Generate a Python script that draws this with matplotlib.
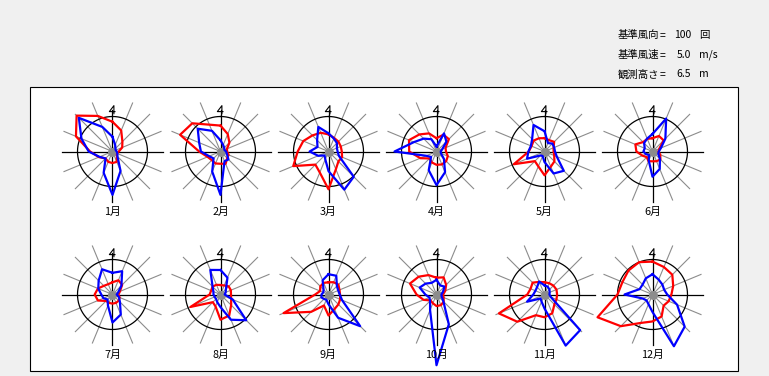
import numpy as np
import matplotlib
matplotlib.use("Agg")
import matplotlib.pyplot as plt
from matplotlib.patches import Rectangle

plt.rcParams['font.family'] = ['Noto Sans CJK JP', 'DejaVu Sans']

# 16 directions, clockwise from north: N, NNE, NE, ..., NNW
directions = ['N', 'NNE', 'NE', 'ENE', 'E', 'ESE', 'SE', 'SSE',
              'S', 'SSW', 'SW', 'WSW', 'W', 'WNW', 'NW', 'NNW']
months = ['1月', '2月', '3月', '4月', '5月', '6月',
          '7月', '8月', '9月', '10月', '11月', '12月']

ref_count = 100   # 基準風向 (回)
ref_speed = 5.0   # 基準風速 (m/s)

# wind direction frequency (回)
freq_jan = [85, 65, 40, 30, 18, 14, 18, 32, 33, 32, 28, 42, 64, 113, 145, 110]
freq_feb = [74, 54, 36, 20, 19, 25, 27, 38, 35, 37, 35, 40, 61, 125, 114, 83]
freq_mar = [49, 42, 40, 38, 38, 42, 40, 55, 108, 65, 53, 109, 88, 78, 65, 58]
freq_apr = [38, 52, 50, 28, 27, 35, 39, 40, 38, 34, 28, 50, 78, 85, 69, 56]
freq_may = [38, 35, 39, 28, 26, 30, 40, 47, 68, 46, 39, 95, 45, 40, 44, 41]
freq_jun = [38, 48, 45, 21, 17, 24, 32, 30, 28, 30, 23, 31, 46, 53, 38, 39]
freq_jul = [35, 44, 39, 23, 17, 22, 25, 26, 26, 26, 26, 45, 51, 45, 35, 32]
freq_aug = [27, 28, 33, 32, 30, 33, 43, 65, 72, 37, 31, 93, 31, 29, 32, 30]
freq_sep = [35, 38, 40, 34, 33, 36, 40, 45, 60, 34, 70, 139, 38, 26, 33, 36]
freq_oct = [48, 53, 39, 27, 19, 22, 29, 33, 33, 27, 24, 40, 57, 82, 72, 60]
freq_nov = [35, 35, 36, 37, 36, 37, 40, 58, 65, 64, 110, 141, 49, 43, 48, 39]
freq_dec = [94, 85, 80, 64, 54, 50, 45, 68, 77, 88, 128, 170, 100, 93, 97, 100]

# mean wind speed (m/s)
speed_jan = [2.1, 1.0, 0.6, 0.5, 0.6, 0.75, 1.0, 3.0, 6.2, 3.3, 1.4, 2.0, 3.4, 4.8, 6.8, 3.8]
speed_feb = [1.6, 1.0, 0.75, 0.6, 0.8, 1.0, 1.6, 1.5, 6.2, 3.1, 1.4, 1.75, 2.8, 3.3, 4.6, 3.2]
speed_mar = [2.6, 2.0, 1.7, 1.3, 1.3, 1.6, 5.1, 5.9, 2.8, 1.2, 0.8, 1.6, 2.7, 1.7, 2.3, 3.8]
speed_apr = [0.7, 2.8, 2.0, 0.9, 0.6, 0.7, 1.5, 3.2, 4.8, 2.9, 1.1, 1.6, 6.0, 3.5, 2.6, 1.9]
speed_may = [2.9, 1.3, 1.6, 1.5, 1.5, 1.9, 3.9, 3.4, 1.5, 0.7, 0.8, 2.7, 2.3, 2.1, 2.5, 4.1]
speed_jun = [2.5, 5.1, 2.6, 1.3, 0.9, 0.9, 1.5, 2.7, 3.6, 1.4, 0.7, 1.0, 1.3, 1.2, 1.7, 2.0]
speed_jul = [3.1, 3.6, 1.8, 0.9, 0.6, 1.0, 1.5, 3.1, 4.0, 1.7, 1.0, 1.4, 1.6, 2.2, 2.8, 3.9]
speed_aug = [3.5, 2.6, 1.1, 0.8, 0.6, 1.9, 5.2, 3.9, 1.8, 1.2, 0.9, 0.9, 1.0, 1.1, 1.6, 3.8]
speed_sep = [2.9, 2.9, 1.7, 1.5, 1.6, 2.1, 6.4, 3.6, 1.4, 0.8, 0.9, 1.1, 1.0, 0.8, 1.0, 2.2]
speed_oct = [2.1, 1.4, 1.6, 1.0, 0.7, 0.8, 1.4, 4.6, 10.1, 2.4, 1.3, 1.1, 1.6, 2.6, 2.2, 1.8]
speed_nov = [1.3, 1.2, 1.0, 0.8, 0.7, 1.0, 7.2, 7.9, 2.0, 1.1, 0.8, 2.7, 1.6, 1.4, 1.5, 2.0]
speed_dec = [2.9, 2.3, 2.0, 1.8, 2.1, 3.8, 6.5, 8.0, 2.5, 1.5, 1.2, 1.5, 4.0, 2.0, 2.0, 2.5]

freqs = [freq_jan, freq_feb, freq_mar, freq_apr, freq_may, freq_jun,
         freq_jul, freq_aug, freq_sep, freq_oct, freq_nov, freq_dec]
speeds = [speed_jan, speed_feb, speed_mar, speed_apr, speed_may, speed_jun,
          speed_jul, speed_aug, speed_sep, speed_oct, speed_nov, speed_dec]

info_labels = ['基準風向', '基準風速', '観測高さ']
info_values = ['100', '5.0', '6.5']
info_units = ['回', 'm/s', 'm']

# ---------------------------------------------------------------- layout
W, H = 769, 376
fig = plt.figure(figsize=(W / 100, H / 100), dpi=100, facecolor='#f0f0f0')

# white framed panel
fig.add_artist(Rectangle((30 / W, 1 - 371 / H), 708 / W, 284 / H,
                         transform=fig.transFigure, facecolor='white',
                         edgecolor='black', lw=0.8, zorder=-5))

R_PX = 35.0          # radius of reference circle in pixels
HALF = 80.0          # half size of each polar axes in pixels
rmax = HALF / R_PX

theta = np.deg2rad(np.arange(16) * 22.5)
theta_c = np.append(theta, theta[0])
circ_t = np.linspace(0, 2 * np.pi, 241)

x0, dx = 112.5, 108.0
rows_y = [151.5, 294.5]

for i, (m, fr, sp) in enumerate(zip(months, freqs, speeds)):
    cx = x0 + dx * (i % 6)
    cy = rows_y[i // 6]
    ax = fig.add_axes([(cx - HALF) / W, 1 - (cy + HALF) / H, 2 * HALF / W, 2 * HALF / H],
                      projection='polar')
    ax.set_theta_zero_location('N')
    ax.set_theta_direction(-1)
    ax.set_ylim(0, rmax)
    ax.axis('off')

    # gray spokes
    for k in range(16):
        if k % 4:
            ax.plot([theta[k], theta[k]], [0, 1.5], color='#8c8c8c', lw=0.8,
                    clip_on=False, zorder=1)
    # black cross
    for k, L in [(0, 1.2), (4, 1.45), (8, 1.45), (12, 1.45)]:
        ax.plot([theta[k], theta[k]], [0, L], color='black', lw=0.9,
                clip_on=False, zorder=2)
    # reference circle
    ax.plot(circ_t, np.ones_like(circ_t), color='black', lw=0.9,
            clip_on=False, zorder=2)
    # north mark
    s = R_PX / (2 * HALF)
    gx = [0.04, 0.04, -0.09, 0.07]
    gy = [1.08, 1.31, 1.14, 1.14]
    ax.plot([0.5 + u * s for u in gx], [0.5 + v * s for v in gy],
            transform=ax.transAxes, color='black', lw=0.8, clip_on=False)
    # center dot
    ax.plot([0], [0], 'o', color='#8c8c8c', ms=5.5, zorder=3, clip_on=False)

    r_freq = np.array(fr, dtype=float) / ref_count
    r_speed = np.array(sp, dtype=float) / ref_speed
    ax.plot(theta_c, np.append(r_freq, r_freq[0]), color='#ff0000', lw=1.6,
            clip_on=False, zorder=4)
    ax.plot(theta_c, np.append(r_speed, r_speed[0]), color='#0000ff', lw=1.6,
            clip_on=False, zorder=5)

    fig.text(cx / W, 1 - (cy + 60.5) / H, m, ha='center', va='center',
             fontsize=7.8, color='black')

for j, (lab, val, unit) in enumerate(zip(info_labels, info_values, info_units)):
    yy = 1 - (35 + 19.7 * j) / H
    fig.text(618 / W, yy, lab, ha='left', va='center', fontsize=7.5)
    fig.text(660 / W, yy, '=', ha='left', va='center', fontsize=7.5)
    fig.text(691 / W, yy, val, ha='right', va='center', fontsize=7.5)
    fig.text(699 / W, yy, unit, ha='left', va='center', fontsize=7.5)

fig.savefig('out.png', dpi=100, facecolor=fig.get_facecolor())
